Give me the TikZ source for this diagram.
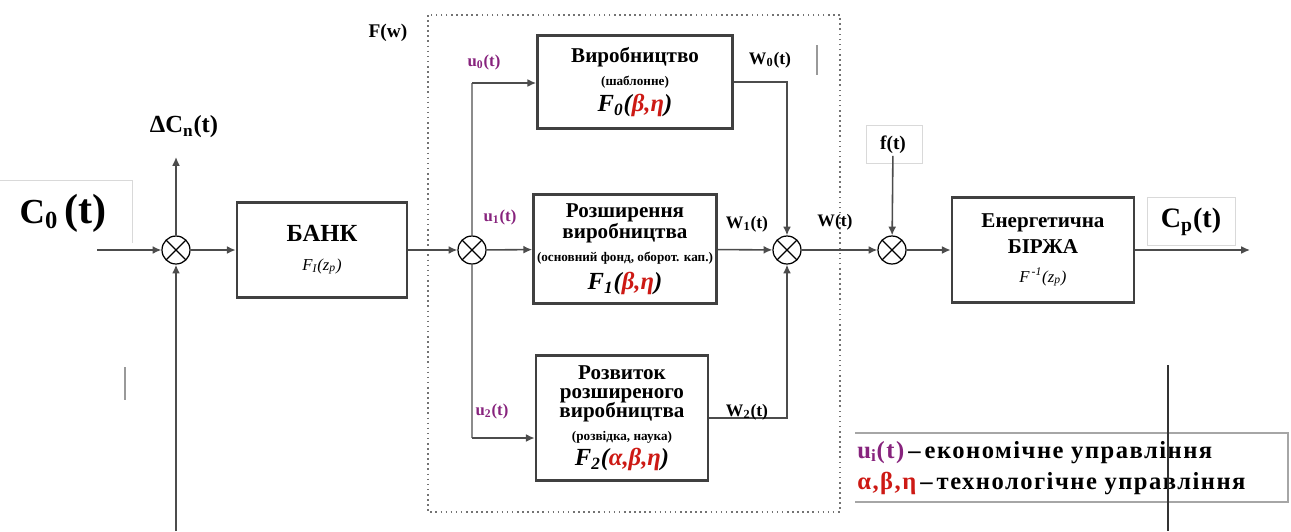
\documentclass[tikz,border=0pt]{standalone}
\usepackage{fontspec}
\usepackage{amsmath}
\setmainfont{Liberation Serif}
\usetikzlibrary{positioning, arrows.meta}

\definecolor{ucol}{RGB}{135,35,125}
\definecolor{tcol}{RGB}{205,25,20}

\newcommand{\bigtxt}[1]{{\fontsize{12}{9}\selectfont\bfseries #1}}
\newcommand{\smalltxt}[1]{{\fontsize{7.5}{9}\selectfont\bfseries #1}}
\newcommand{\formtxt}[1]{{\fontsize{14}{9}\selectfont\bfseries\itshape #1}}
\newcommand{\tc}[1]{{\color{tcol}#1}}

\tikzset{
  blok/.style={draw=black!75, line width=1.5pt, fill=white, align=center, inner sep=1pt},
  sum/.style={draw, circle, minimum size=0.56cm, inner sep=0pt, line width=0.7pt,
    path picture={\draw[line width=0.7pt]
      (path picture bounding box.north west) -- (path picture bounding box.south east)
      (path picture bounding box.north east) -- (path picture bounding box.south west);}},
  sig/.style={draw=black!70, line width=0.9pt, -{Latex[length=5pt,width=4.5pt]}},
  lbl/.style={font=\fontsize{10}{12}\selectfont\bfseries, inner sep=1pt},
  ulbl/.style={font=\fontsize{9.5}{11}\selectfont\bfseries, text=ucol, inner sep=1pt},
  ramka/.style={draw=black!15, line width=0.5pt}
}

\begin{document}
\begin{tikzpicture}[x=0.02cm, y=-0.02cm]
\useasboundingbox (0,0) rectangle (1291,531);

% ---------- ВХОД И БАНК ----------

\draw[ramka] (0,180) -- (132,180) -- (132,243);
\node[lbl, font=\fontsize{20}{24}\selectfont\bfseries] (c0) at (63,213) {C\textsubscript{0}\,{\fontsize{24}{24}\selectfont(t)}};
\coordinate (c0in) at (97,250);

\node[sum] (s1) at (176,250) {};
\coordinate (dcend) at (176,157);
\node[lbl, font=\fontsize{14}{16}\selectfont\bfseries] (dc) at (184,127) {ΔC\textsubscript{n}(t)};
\coordinate (fb) at (176,531);

\node[blok, minimum width=3.4cm, minimum height=1.9cm] (bank) at (322,250)
  {{\fontsize{14}{9}\selectfont\bfseries БАНК}\\[4pt]
   {\fontsize{9.5}{9}\selectfont\itshape F\textsubscript{I}(z\textsubscript{p})}};

\draw[sig] (c0in) -- (s1);
\draw[sig] (s1) -- (dcend);
\draw[sig, line width=1.2pt] (fb) -- (s1);
\draw[sig] (s1) -- (bank);

% ---------- БЛОК F(w) ----------

\draw[dotted, black!55, line width=0.9pt] (428,15) rectangle (840,512);
\node[lbl, font=\fontsize{11}{13}\selectfont\bfseries] (fw) at (388,33) {F(w)};

\node[sum] (s2) at (472,250) {};
\draw[sig] (bank) -- (s2);

\node[blok, minimum width=3.9cm, minimum height=1.86cm] (box0) at (635,82)
  {\bigtxt{Виробництво}\\[1pt]
   \smalltxt{(шаблонне)}\\[3pt]
   \formtxt{F\textsubscript{0}(\tc{β,η})}};

\node[blok, minimum width=3.66cm, minimum height=2.18cm] (box1) at (625,249)
  {\bigtxt{Розширення}\\
   \bigtxt{виробництва}\\[1pt]
   \smalltxt{(основний фонд, оборот. кап.)}\\[4pt]
   \formtxt{F\textsubscript{1}(\tc{β,η})}};

\node[blok, minimum width=3.44cm, minimum height=2.5cm] (box2) at (622,418)
  {\bigtxt{Розвиток}\\[-1pt]
   \bigtxt{розширеного}\\[-1pt]
   \bigtxt{виробництва}\\[1pt]
   \smalltxt{(розвідка, наука)}\\[2pt]
   \formtxt{F\textsubscript{2}(\tc{α,β,η})}};

\coordinate (u0k) at (472,83);
\coordinate (u2k) at (472,438);
\draw[draw=black!45, line width=0.9pt] (s2) -- (u0k);
\draw[draw=black!45, line width=0.9pt] (s2) -- (u2k);
\draw[sig] (u0k) -- (u0k -| box0.west);
\draw[sig] (u2k) -- (u2k -| box2.west);
\draw[sig] (s2) -- (box1);

\node[ulbl] (u0) at (484,62) {u\textsubscript{0}(t)};
\node[ulbl] (u1) at (500,217) {u\textsubscript{1}(t)};
\node[ulbl] (u2) at (492,411) {u\textsubscript{2}(t)};

\node[sum] (s3) at (787,250) {};
\draw[sig] (box0.east) -| (s3);
\draw[sig] (box1) -- (s3);
\draw[sig] (box2.east) -| (s3);

\node[lbl] (w0) at (770,60) {W\textsubscript{0}(t)};
\node[lbl] (w1) at (747,224) {W\textsubscript{1}(t)};
\node[lbl] (w2) at (747,412) {W\textsubscript{2}(t)};

% ---------- БИРЖА И ВЫХОД ----------

\node[sum] (s4) at (892,250) {};
\draw[sig] (s3) -- (s4);
\node[lbl] (w) at (835,222) {W(t)};

\draw[ramka] (866,125) rectangle (922,163);
\node[lbl, font=\fontsize{11}{13}\selectfont\bfseries] (ft) at (893,145) {f(t)};
\draw[sig] (ft) -- (s4);

\node[blok, minimum width=3.64cm, minimum height=2.1cm] (birzha) at (1043,250)
  {\bigtxt{Енергетична}\\[3pt]
   \bigtxt{БІРЖА}\\[4pt]
   {\fontsize{9.5}{9}\selectfont\itshape F\textsuperscript{\,-1}(z\textsubscript{p})}};
\draw[sig] (s4) -- (birzha);

\coordinate (cpout) at (1250,250);
\draw[sig] (birzha) -- (cpout);
\draw[ramka] (1147,197) rectangle (1235,245);
\node[lbl, font=\fontsize{16}{18}\selectfont\bfseries] (cp) at (1191,222) {C\textsubscript{p}(t)};

% ---------- ЛЕГЕНДА ----------

\draw[draw=black!35, line width=0.8pt] (855,433) -- (1288,433) -- (1288,502) -- (855,502);
\node[font=\fontsize{14}{18}\selectfont\bfseries\addfontfeature{LetterSpace=6}, align=left, anchor=west, inner sep=0pt]
  (legend) at (857,468)
  {{\color{ucol}u\textsubscript{i}(t)}\,–\,економічне управління\\
   {\color{tcol}α,β,η}\,–\,технологічне управління};

% ---------- ПРОЧЕЕ ----------

\draw[black!80, line width=0.6pt] (1168,365) -- (1168,531);
\draw[black!40, line width=1pt] (125,367) -- (125,400);
\draw[black!40, line width=1pt] (817,45) -- (817,75);

\end{tikzpicture}
\end{document}
